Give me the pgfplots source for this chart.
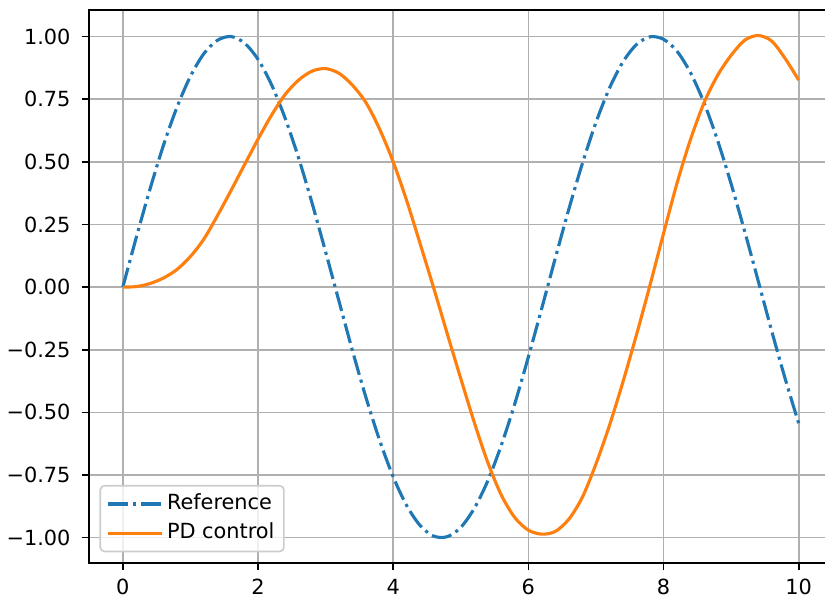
\documentclass[border=0pt]{standalone}
\usepackage{fontspec}
\setmainfont{DejaVu Sans}
\usepackage{pgfplots}
\pgfplotsset{compat=1.18}
\definecolor{mplblue}{HTML}{1F77B4}
\definecolor{mplorange}{HTML}{FF7F0E}
\definecolor{mplgrid}{HTML}{B0B0B0}
\definecolor{legedge}{HTML}{CCCCCC}
\begin{document}
\begin{tikzpicture}
\begin{axis}[
  scale only axis,
  width=356.6pt, height=265pt,
  xmin=-0.5, xmax=10.5,
  ymin=-1.1, ymax=1.105,
  axis line style={line width=0.8pt, black},
  tick align=outside,
  tick pos=left,
  major tick length=3.5pt,
  every tick/.style={black, line width=0.8pt},
  grid=major,
  major grid style={mplgrid, line width=0.8pt},
  xtick={0,2,4,6,8,10},
  xticklabels={0,2,4,6,8,10},
  ytick={-1,-0.75,-0.5,-0.25,0,0.25,0.5,0.75,1},
  yticklabels={−1.00,−0.75,−0.50,−0.25,0.00,0.25,0.50,0.75,1.00},
  /pgf/number format/assume math mode=true,
  tick label style={font=\fontsize{10pt}{12pt}\selectfont, black},
  x tick label style={inner sep=0pt, anchor=north, yshift=-4.2pt},
  y tick label style={inner sep=0pt, anchor=east, xshift=-5.2pt},
  legend style={
    at={(0,0)}, anchor=south west, xshift=5pt, yshift=5pt,
    draw=legedge, line width=0.8pt, rounded corners=2pt,
    fill=white, fill opacity=0.8, text opacity=1,
    font=\fontsize{10pt}{12pt}\selectfont,
    inner xsep=3pt, inner ysep=2.5pt,
    row sep=1.5pt,
    nodes={inner sep=1.5pt, text height=7.5pt, text depth=2pt},
  },
  legend cell align=left,
  legend image code/.code={\draw[#1] (0pt,0pt) -- (20pt,0pt); \path (0pt,0pt) -- (26pt,0pt);},
]
\addplot[mplblue, line width=1.5pt, smooth, dash pattern=on 9.6pt off 2.4pt on 1.5pt off 2.4pt] coordinates {
(0.0,0.000) (0.2,0.199) (0.4,0.389) (0.6,0.565) (0.8,0.717) (1.0,0.841)
(1.2,0.932) (1.4,0.985) (1.6,1.000) (1.8,0.974) (2.0,0.909) (2.2,0.808)
(2.4,0.675) (2.6,0.516) (2.8,0.335) (3.0,0.141) (3.2,-0.058) (3.4,-0.256)
(3.6,-0.443) (3.8,-0.612) (4.0,-0.757) (4.2,-0.872) (4.4,-0.952) (4.6,-0.994)
(4.8,-0.996) (5.0,-0.959) (5.2,-0.883) (5.4,-0.773) (5.6,-0.631) (5.8,-0.465)
(6.0,-0.279) (6.2,-0.083) (6.4,0.117) (6.6,0.312) (6.8,0.494) (7.0,0.657)
(7.2,0.794) (7.4,0.899) (7.6,0.968) (7.8,0.999) (8.0,0.989) (8.2,0.941)
(8.4,0.855) (8.6,0.735) (8.8,0.585) (9.0,0.412) (9.2,0.223) (9.4,0.025)
(9.6,-0.175) (9.8,-0.366) (10.0,-0.544)
};
\addlegendentry{Reference}
\addplot[mplorange, line width=1.5pt, smooth] coordinates {
(0.0,0.000) (0.2,0.002) (0.4,0.014) (0.6,0.036) (0.8,0.070) (1.0,0.122)
(1.2,0.192) (1.4,0.285) (1.6,0.385) (1.8,0.488) (2.0,0.590) (2.2,0.686)
(2.4,0.768) (2.6,0.826) (2.8,0.862) (3.0,0.872) (3.2,0.853) (3.4,0.805)
(3.6,0.735) (3.8,0.630) (4.0,0.500) (4.2,0.345) (4.4,0.172) (4.6,-0.004)
(4.8,-0.186) (5.0,-0.365) (5.2,-0.540) (5.4,-0.700) (5.6,-0.830) (5.8,-0.920)
(6.0,-0.970) (6.2,-0.986) (6.4,-0.975) (6.6,-0.926) (6.8,-0.838) (7.0,-0.706)
(7.2,-0.552) (7.4,-0.378) (7.6,-0.190) (7.8,0.008) (8.0,0.214) (8.2,0.415)
(8.4,0.590) (8.6,0.736) (8.8,0.845) (9.0,0.925) (9.2,0.985) (9.4,1.004)
(9.6,0.982) (9.8,0.912) (10.0,0.826)
};
\addlegendentry{PD control}
\end{axis}
\pgfresetboundingbox
\path[use as bounding box] ([xshift=-42.7pt,yshift=-16.2pt]current axis.south west) rectangle ([xshift=-3.6pt,yshift=4.9pt]current axis.north east);
\end{tikzpicture}
\end{document}
